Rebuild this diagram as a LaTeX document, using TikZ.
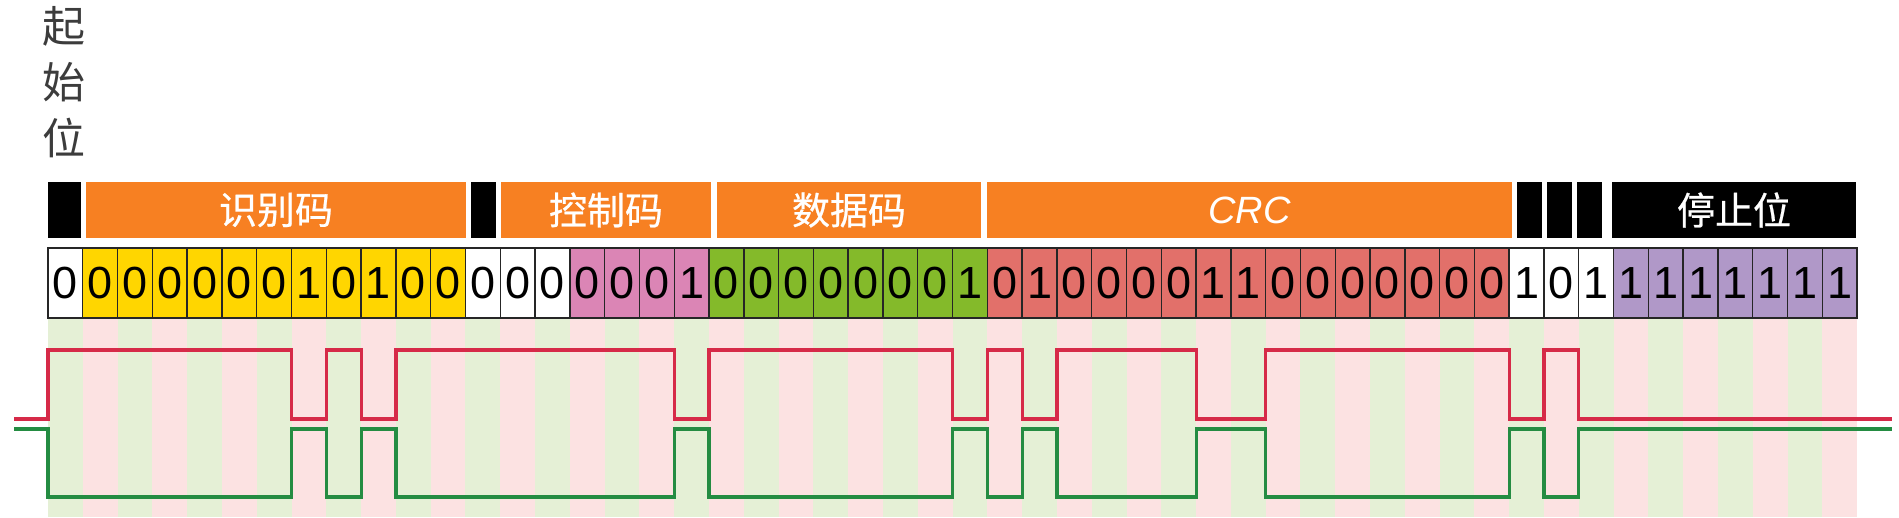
\documentclass[tikz,border=0pt]{standalone}
\usepackage{fontspec}
\setmainfont{Liberation Sans}
\newfontfamily\cjk{Noto Sans CJK SC}
\newfontfamily\cjkb[FakeBold=0.6]{Noto Sans CJK SC}
\definecolor{barorange}{RGB}{247,128,34}
\definecolor{cyellow}{RGB}{255,214,0}
\definecolor{cpink}{RGB}{219,133,181}
\definecolor{cgreen}{RGB}{132,186,42}
\definecolor{cred}{RGB}{226,112,106}
\definecolor{cpurple}{RGB}{176,152,200}
\definecolor{sgreen}{RGB}{229,240,214}
\definecolor{spink}{RGB}{252,226,226}
\definecolor{wred}{RGB}{214,42,72}
\definecolor{wgreen}{RGB}{36,140,66}
\definecolor{lblgray}{RGB}{60,60,60}
\newcommand\bitseg[3]{%
  \foreach \b [count=\k from #1] in {#3} {
    \node[bitcell, fill=#2] (b\k) at ({48+(\k+0.5)*34.79}, 283) {\b};
  }}
\begin{document}
\begin{tikzpicture}[x=1pt,y=-1pt,
  bitcell/.style={draw=black!85, line width=1.4pt, minimum width=34.79pt,
    minimum height=70pt, inner sep=0pt, font=\fontsize{45}{45}\selectfont},
  obar/.style={fill=barorange, minimum height=56pt, inner sep=0pt,
    text=white, font=\fontsize{38}{38}\selectfont},
  kbar/.style={fill=black, minimum height=56pt, inner sep=0pt,
    text=white, font=\fontsize{38}{38}\selectfont},
  wave/.style={line width=3.2pt, line join=miter}]
\useasboundingbox (0,0) rectangle (1899,517);
% background stripes
\foreach \k in {0,...,51} {
  \ifodd\k \def\sc{spink}\else \def\sc{sgreen}\fi
  \fill[\sc] ({48+\k*34.79},318) rectangle ({48+(\k+1)*34.79},517);
}
% label
\node[anchor=north, inner sep=0pt, align=center, text=lblgray,
  font=\cjk\fontsize{43}{56}\selectfont] (startlbl) at (64,6) {起\\始\\位};
% top bars
\node[kbar, minimum width=33pt] (sof) at (64.5,210) {};
\node[obar, minimum width=380pt] (idb) at (276,210) {\cjkb 识别码};
\node[kbar, minimum width=25pt] (rtr) at (483.5,210) {};
\node[obar, minimum width=210pt] (ctl) at (606,210) {\cjkb 控制码};
\node[obar, minimum width=264pt] (dat) at (849,210) {\cjkb 数据码};
\node[obar, minimum width=525pt] (crc) at (1249.5,210) {\itshape CRC};
\node[kbar, minimum width=25pt] (k1) at (1529.5,210) {};
\node[kbar, minimum width=25pt] (k2) at (1559.5,210) {};
\node[kbar, minimum width=25pt] (k3) at (1589.5,210) {};
\node[kbar, minimum width=244pt] (eof) at (1734,210) {\cjkb 停止位};
% bit cells
\bitseg{0}{white}{0}
\bitseg{1}{cyellow}{0,0,0,0,0,0,1,0,1,0,0}
\bitseg{12}{white}{0,0,0}
\bitseg{15}{cpink}{0,0,0,1}
\bitseg{19}{cgreen}{0,0,0,0,0,0,0,1}
\bitseg{27}{cred}{0,1,0,0,0,0,1,1,0,0,0,0,0,0,0}
\bitseg{42}{white}{1,0,1}
\bitseg{45}{cpurple}{1,1,1,1,1,1,1}
% waveforms
\draw[wave, wred] (14,419) -| (48,350) -| (291.5,419) -| (326.3,350)
  -| (361.1,419) -| (395.9,350) -| (674.2,419) -| (709,350)
  -| (952.5,419) -| (987.3,350) -| (1022.1,419) -| (1056.9,350)
  -| (1196.1,419) -| (1265.7,350) -| (1509.2,419) -| (1544,350)
  -| (1578.8,419) -- (1892,419);
\draw[wave, wgreen] (14,429) -| (48,497) -| (291.5,429) -| (326.3,497)
  -| (361.1,429) -| (395.9,497) -| (674.2,429) -| (709,497)
  -| (952.5,429) -| (987.3,497) -| (1022.1,429) -| (1056.9,497)
  -| (1196.1,429) -| (1265.7,497) -| (1509.2,429) -| (1544,497)
  -| (1578.8,429) -- (1892,429);
\end{tikzpicture}
\end{document}
